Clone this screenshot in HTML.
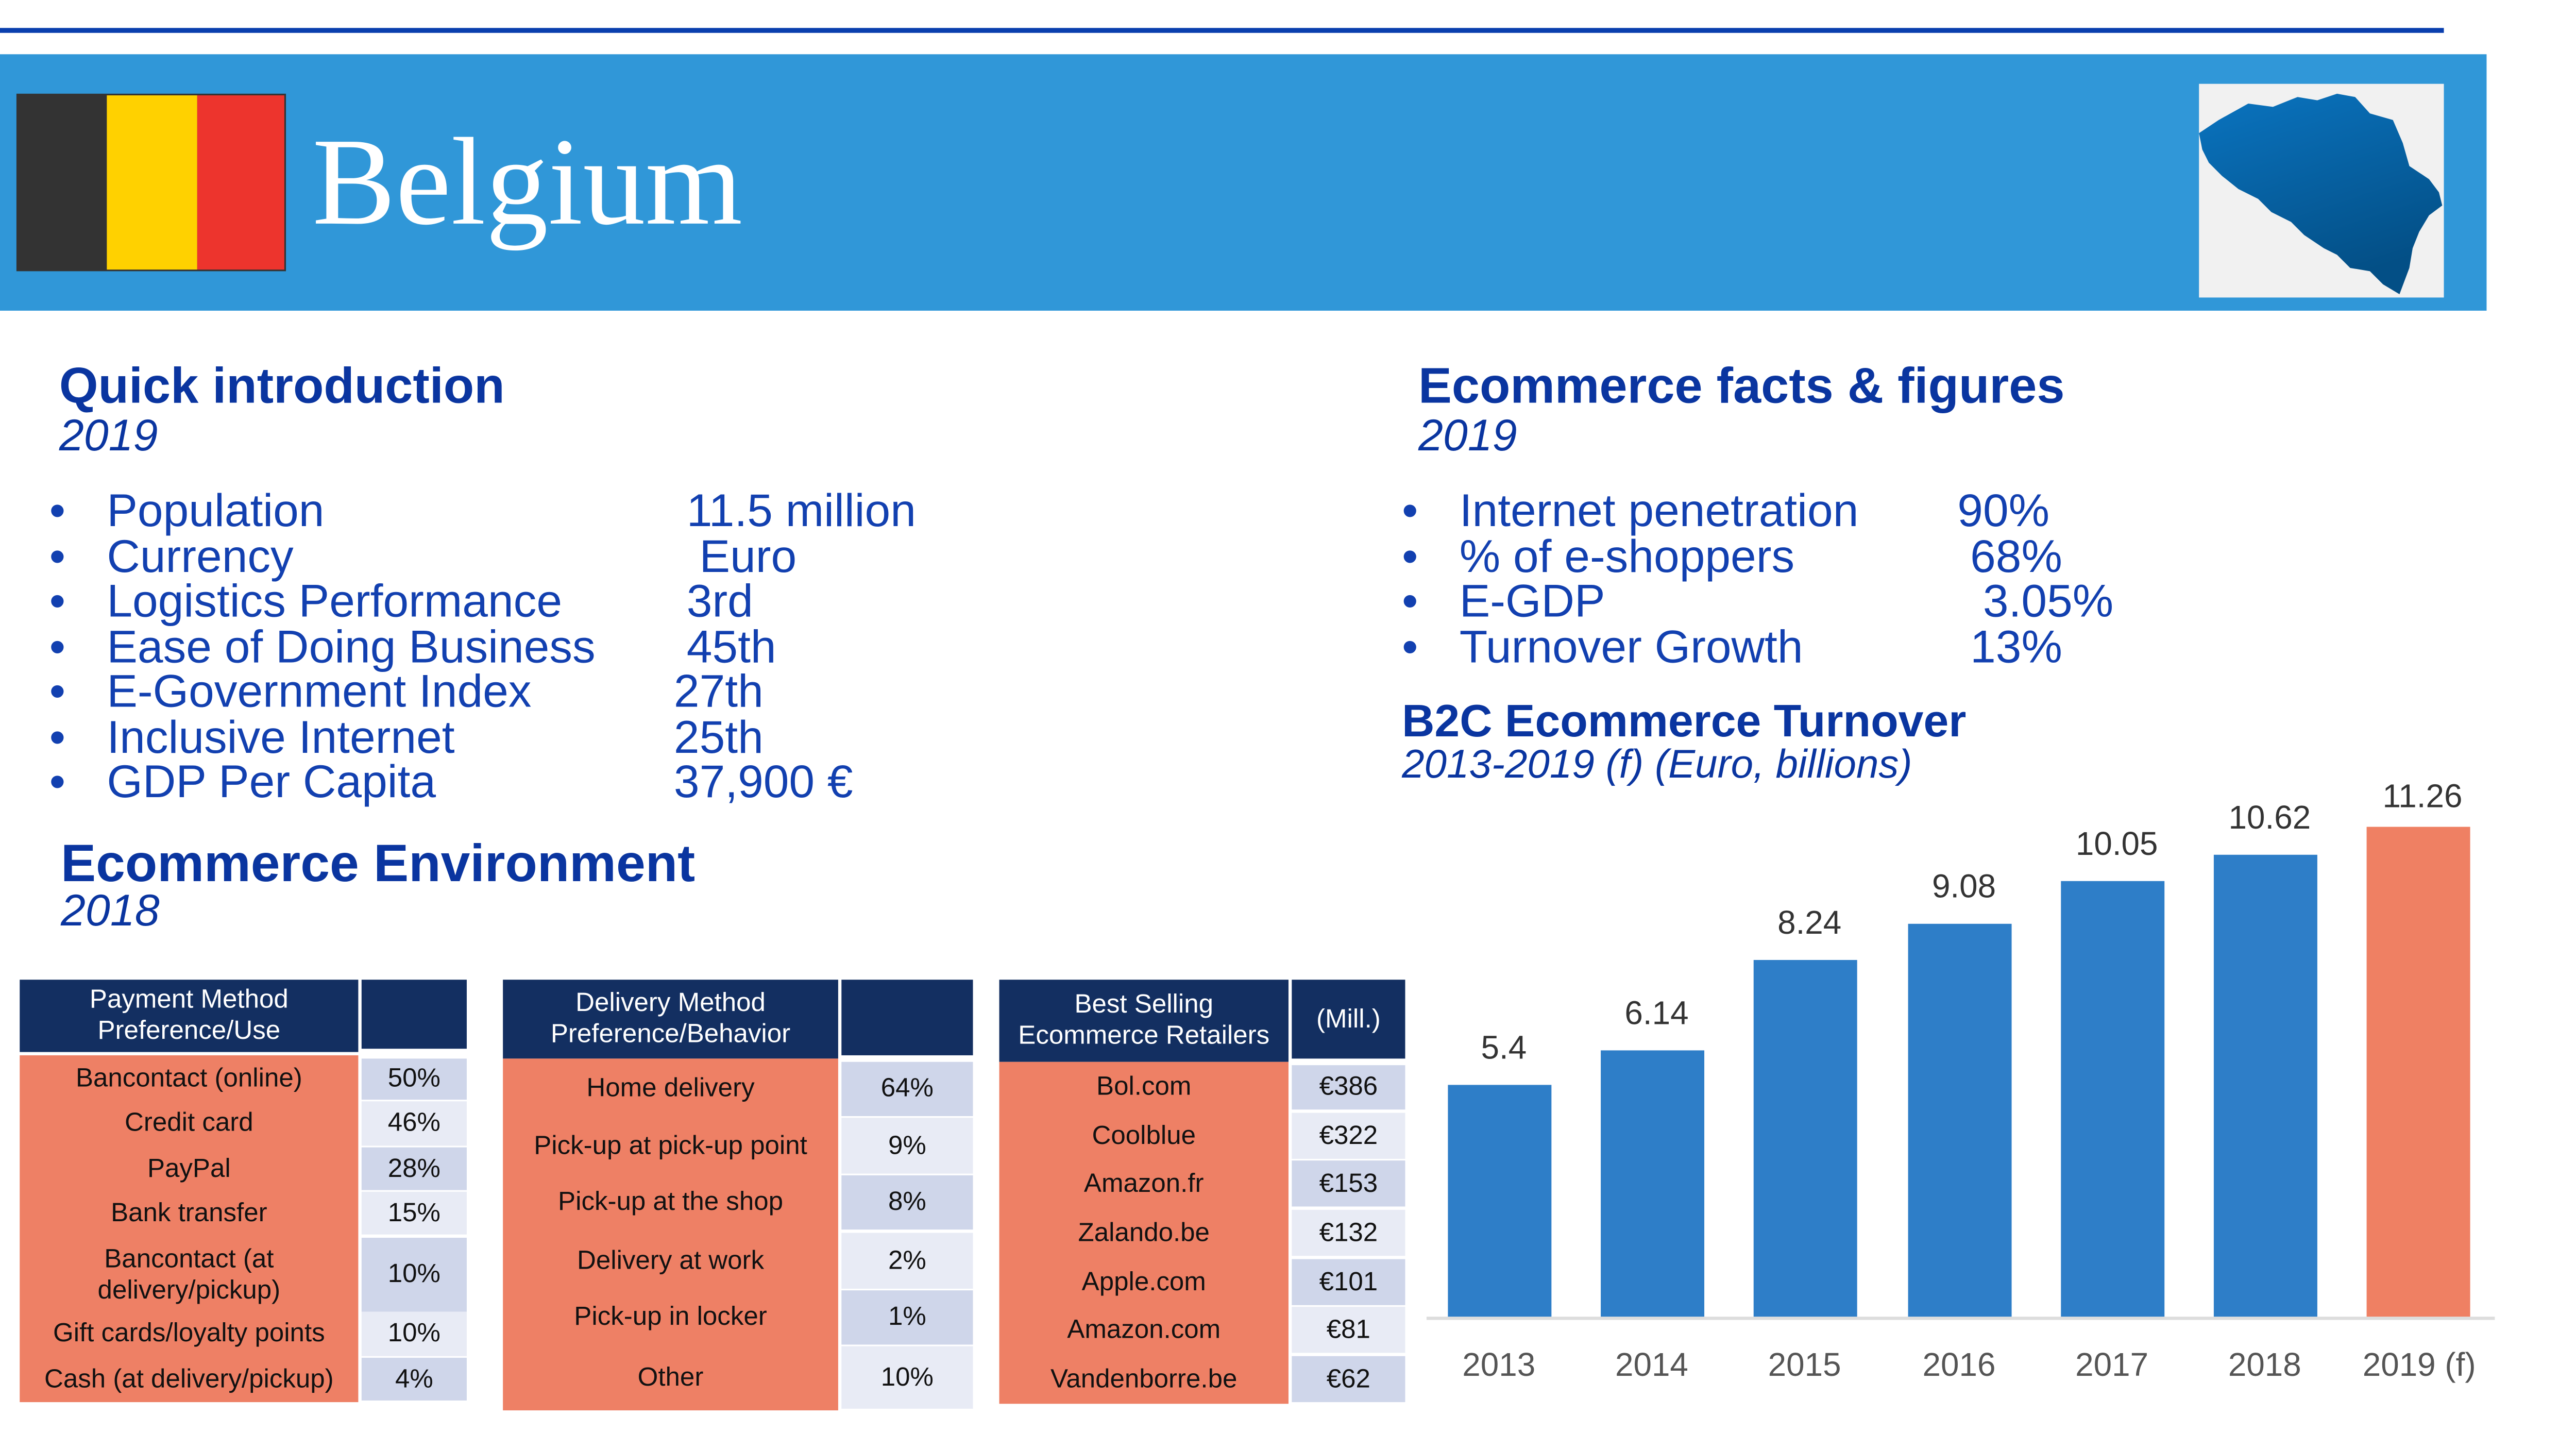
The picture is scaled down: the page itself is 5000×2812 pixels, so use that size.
<!DOCTYPE html>
<html><head><meta charset="utf-8"><style>
html,body{margin:0;padding:0;background:#fff;overflow:hidden}
body{width:5000px;height:2812px;position:relative}
#w{position:absolute;left:0;top:0;width:1548px;height:870px;transform-origin:0 0;transform:scale(3.19,3.19);font-family:"Liberation Sans",sans-serif}
.a{position:absolute;white-space:nowrap}
.h{color:#0a35a0;font-weight:bold;font-size:30.5px;line-height:30px}
.i{color:#0a35a0;font-style:italic;font-size:27px;line-height:28px}
.b{color:#1240b0;font-size:28px;line-height:28px}
.c{position:absolute;display:flex;align-items:center;justify-content:center;text-align:center;font-size:16px;line-height:19px;color:#111}
.hd{background:#132f61;color:#fff}
.o{background:#ee8065}
.d{background:#cfd6ea}.l{background:#e8ebf5}
.bar{position:absolute;background:#2e7ec8;width:63px}
.v{position:absolute;width:80px;text-align:center;font-size:20px;color:#333}
.y{position:absolute;width:90px;text-align:center;font-size:20px;color:#555;top:820px}
</style></head><body><div id="w">
<div class="a" style="left:0;top:17px;width:1487px;height:3px;background:#0a3fae"></div>
<div class="a" style="left:0;top:33px;width:1513px;height:156px;background:#3097d8"></div>
<div class="a" style="left:10px;top:57px;width:164px;height:108px;background:#333"></div>
<div class="a" style="left:65px;top:58px;width:55px;height:106px;background:#ffd100"></div>
<div class="a" style="left:120px;top:58px;width:53px;height:106px;background:#ed342d"></div>
<div class="a" style="left:190px;top:66px;font-family:'Liberation Serif',serif;font-size:76px;color:#fff;line-height:90px">Belgium</div>
<div class="a" style="left:1338px;top:51px;width:149px;height:130px;background:#f1f1f1"></div>
<svg class="a" style="left:1338px;top:51px" width="149" height="130" viewBox="0 0 149 130"><defs><linearGradient id="g" x1="0" y1="0" x2="0.4" y2="1"><stop offset="0" stop-color="#0a74c0"/><stop offset="1" stop-color="#034f86"/></linearGradient></defs>
<path d="M0,30 L12,22 L30,12 L45,14 L60,8 L72,10 L84,6 L95,8 L104,18 L118,22 L124,36 L128,50 L140,58 L146,66 L148,74 L140,80 L134,90 L130,100 L128,112 L122,128 L112,122 L104,114 L92,112 L84,104 L76,100 L64,92 L56,84 L44,78 L36,70 L24,64 L14,56 L6,48 L2,40 Z" fill="url(#g)"/></svg>

<div class="a h" style="left:36px;top:220px">Quick introduction</div>
<div class="a i" style="left:36px;top:251px">2019</div>
<div class="a b" style="left:30px;top:297px;line-height:27.5px">•<br>•<br>•<br>•<br>•<br>•<br>•</div>
<div class="a b" style="left:65px;top:297px;line-height:27.5px">Population<br>Currency<br>Logistics Performance<br>Ease of Doing Business<br>E-Government Index<br>Inclusive Internet<br>GDP Per Capita</div>
<div class="a b" style="left:410px;top:297px;line-height:27.5px">&nbsp;11.5 million<br>&nbsp;&nbsp;Euro<br>&nbsp;3rd<br>&nbsp;45th<br>27th<br>25th<br>37,900 €</div>
<div class="a h" style="left:37px;top:509px;font-size:32px;line-height:32px">Ecommerce Environment</div>
<div class="a i" style="left:37px;top:540px">2018</div>

<div class="a h" style="left:863px;top:220px">Ecommerce facts &amp; figures</div>
<div class="a i" style="left:863px;top:251px">2019</div>
<div class="a b" style="left:853px;top:297px;line-height:27.5px">•<br>•<br>•<br>•</div>
<div class="a b" style="left:888px;top:297px;line-height:27.5px">Internet penetration<br>% of e-shoppers<br>E-GDP<br>Turnover Growth</div>
<div class="a b" style="left:1191px;top:297px;line-height:27.5px">90%<br>&nbsp;68%<br>&nbsp;&nbsp;3.05%<br>&nbsp;13%</div>
<div class="a h" style="left:853px;top:424px;font-size:27.5px">B2C Ecommerce Turnover</div>
<div class="a i" style="left:853px;top:452px;font-size:24.5px">2013-2019 (f) (Euro, billions)</div>

<div class="a" style="left:868px;top:801px;width:650px;height:2px;background:#ddd"></div>
<div class="bar" style="left:881px;top:660px;height:141px"></div>
<div class="bar" style="left:974px;top:639px;height:162px"></div>
<div class="bar" style="left:1067px;top:584px;height:217px"></div>
<div class="bar" style="left:1161px;top:562px;height:239px"></div>
<div class="bar" style="left:1254px;top:536px;height:265px"></div>
<div class="bar" style="left:1347px;top:520px;height:281px"></div>
<div class="bar" style="left:1440px;top:503px;height:298px;background:#ef8063"></div>
<div class="v" style="left:875px;top:627px">5.4</div>
<div class="v" style="left:968px;top:606px">6.14</div>
<div class="v" style="left:1061px;top:551px">8.24</div>
<div class="v" style="left:1155px;top:529px">9.08</div>
<div class="v" style="left:1248px;top:503px">10.05</div>
<div class="v" style="left:1341px;top:487px">10.62</div>
<div class="v" style="left:1434px;top:474px">11.26</div>
<div class="y" style="left:867px">2013</div>
<div class="y" style="left:960px">2014</div>
<div class="y" style="left:1053px">2015</div>
<div class="y" style="left:1147px">2016</div>
<div class="y" style="left:1240px">2017</div>
<div class="y" style="left:1333px">2018</div>
<div class="y" style="left:1427px">2019 (f)</div>

<div class="c hd" style="left:12px;top:596px;width:206px;height:44px">Payment Method<br>Preference/Use</div>
<div class="c hd" style="left:220px;top:596px;width:64px;height:42px"></div>
<div class="c o" style="left:12px;top:642px;width:206px;height:211px"></div>
<div class="c" style="left:12px;top:644px;width:206px;height:25px">Bancontact (online)</div>
<div class="c" style="left:12px;top:670px;width:206px;height:27px">Credit card</div>
<div class="c" style="left:12px;top:698px;width:206px;height:26px">PayPal</div>
<div class="c" style="left:12px;top:725px;width:206px;height:26px">Bank transfer</div>
<div class="c" style="left:12px;top:753px;width:206px;height:45px">Bancontact (at<br>delivery/pickup)</div>
<div class="c" style="left:12px;top:798px;width:206px;height:27px">Gift cards/loyalty points</div>
<div class="c" style="left:12px;top:826px;width:206px;height:26px">Cash (at delivery/pickup)</div>
<div class="c d" style="left:220px;top:644px;width:64px;height:25px">50%</div>
<div class="c l" style="left:220px;top:670px;width:64px;height:27px">46%</div>
<div class="c d" style="left:220px;top:698px;width:64px;height:26px">28%</div>
<div class="c l" style="left:220px;top:725px;width:64px;height:26px">15%</div>
<div class="c d" style="left:220px;top:753px;width:64px;height:45px">10%</div>
<div class="c l" style="left:220px;top:798px;width:64px;height:27px">10%</div>
<div class="c d" style="left:220px;top:826px;width:64px;height:26px">4%</div>

<div class="c hd" style="left:306px;top:596px;width:204px;height:48px">Delivery Method<br>Preference/Behavior</div>
<div class="c hd" style="left:512px;top:596px;width:80px;height:46px"></div>
<div class="c o" style="left:306px;top:644px;width:204px;height:214px"></div>
<div class="c" style="left:306px;top:646px;width:204px;height:33px">Home delivery</div>
<div class="c" style="left:306px;top:680px;width:204px;height:34px">Pick-up at pick-up point</div>
<div class="c" style="left:306px;top:715px;width:204px;height:33px">Pick-up at the shop</div>
<div class="c" style="left:306px;top:750px;width:204px;height:34px">Delivery at work</div>
<div class="c" style="left:306px;top:785px;width:204px;height:33px">Pick-up in locker</div>
<div class="c" style="left:306px;top:819px;width:204px;height:38px">Other</div>
<div class="c d" style="left:512px;top:646px;width:80px;height:33px">64%</div>
<div class="c l" style="left:512px;top:680px;width:80px;height:34px">9%</div>
<div class="c d" style="left:512px;top:715px;width:80px;height:33px">8%</div>
<div class="c l" style="left:512px;top:750px;width:80px;height:34px">2%</div>
<div class="c d" style="left:512px;top:785px;width:80px;height:33px">1%</div>
<div class="c l" style="left:512px;top:819px;width:80px;height:38px">10%</div>

<div class="c hd" style="left:608px;top:596px;width:176px;height:50px">Best Selling<br>Ecommerce Retailers</div>
<div class="c hd" style="left:786px;top:596px;width:69px;height:48px">(Mill.)</div>
<div class="c o" style="left:608px;top:646px;width:176px;height:208px"></div>
<div class="c" style="left:608px;top:648px;width:176px;height:27px">Bol.com</div>
<div class="c" style="left:608px;top:677px;width:176px;height:28px">Coolblue</div>
<div class="c" style="left:608px;top:706px;width:176px;height:28px">Amazon.fr</div>
<div class="c" style="left:608px;top:736px;width:176px;height:28px">Zalando.be</div>
<div class="c" style="left:608px;top:766px;width:176px;height:28px">Apple.com</div>
<div class="c" style="left:608px;top:795px;width:176px;height:28px">Amazon.com</div>
<div class="c" style="left:608px;top:825px;width:176px;height:28px">Vandenborre.be</div>
<div class="c d" style="left:786px;top:648px;width:69px;height:27px">€386</div>
<div class="c l" style="left:786px;top:677px;width:69px;height:28px">€322</div>
<div class="c d" style="left:786px;top:706px;width:69px;height:28px">€153</div>
<div class="c l" style="left:786px;top:736px;width:69px;height:28px">€132</div>
<div class="c d" style="left:786px;top:766px;width:69px;height:28px">€101</div>
<div class="c l" style="left:786px;top:795px;width:69px;height:28px">€81</div>
<div class="c d" style="left:786px;top:825px;width:69px;height:28px">€62</div>
</div></body></html>
